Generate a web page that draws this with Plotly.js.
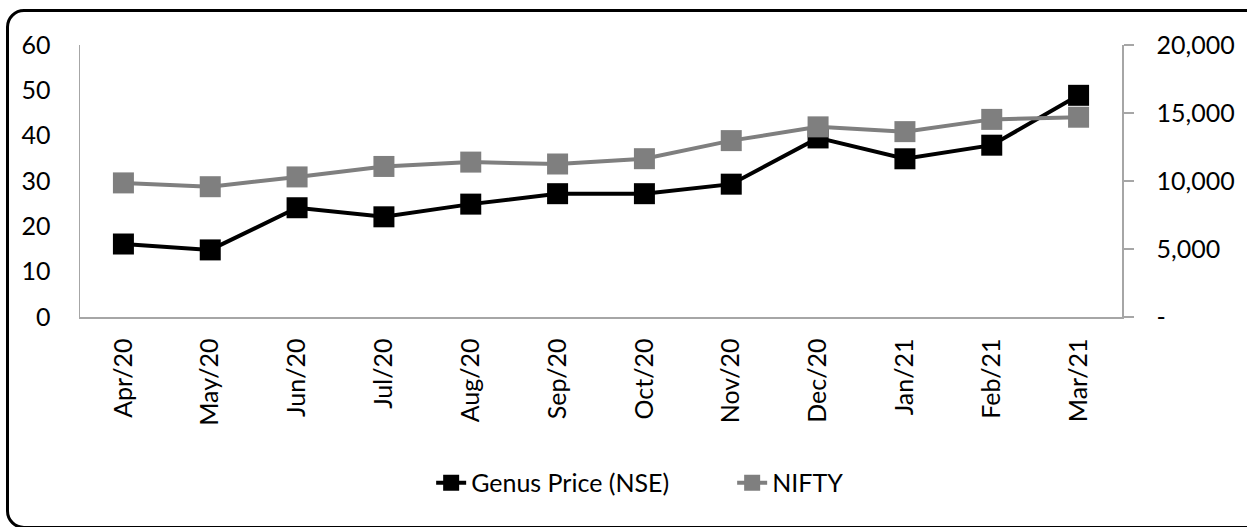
<!DOCTYPE html>
<html>
<head>
<meta charset="utf-8">
<script src="https://cdn.plot.ly/plotly-3.0.1.min.js"></script>
<style>
  html, body { margin: 0; padding: 0; background: #fff; }
  #wrap { position: relative; width: 1247px; height: 527px; overflow: hidden; }
  #chart { position: absolute; left: 0; top: 0; width: 1247px; height: 527px; }
  #frame { position: absolute; left: 6px; top: 9px; width: 1260px; height: 514px;
           border: 3px solid #000; border-radius: 18px; pointer-events: none; }
</style>
</head>
<body>
<div id="wrap">
  <div id="chart"></div>
  <div id="frame"></div>
</div>
<script>
const months = ["Apr/20","May/20","Jun/20","Jul/20","Aug/20","Sep/20","Oct/20","Nov/20","Dec/20","Jan/21","Feb/21","Mar/21"];
const genusPrice = [16.1, 14.8, 24.1, 22.1, 24.9, 27.2, 27.2, 29.3, 39.5, 34.9, 37.9, 48.9];
const nifty = [9860, 9580, 10300, 11070, 11390, 11250, 11640, 12970, 13980, 13630, 14530, 14690];
const leftTicks = [0, 10, 20, 30, 40, 50, 60];
const rightTickVals = [0, 5000, 10000, 15000, 20000];
const rightTickText = ["-", "5,000", "10,000", "15,000", "20,000"];

const FONT = "Lato, 'Open Sans', sans-serif";
const AXIS_GREY = "#a6a6a6";
const FS = 25;

const traces = [
  {
    x: months, y: genusPrice, name: "Genus Price (NSE)", type: "scatter", mode: "lines+markers",
    yaxis: "y",
    line: { color: "#000000", width: 4 },
    marker: { symbol: "square", size: 21, color: "#000000" }
  },
  {
    x: months, y: nifty, name: "NIFTY", type: "scatter", mode: "lines+markers",
    yaxis: "y2",
    line: { color: "#7f7f7f", width: 4 },
    marker: { symbol: "square", size: 21, color: "#7f7f7f" }
  }
];

const layout = {
  width: 1247, height: 527,
  margin: { l: 80, r: 125, t: 45, b: 210 },
  paper_bgcolor: "rgba(0,0,0,0)", plot_bgcolor: "#fff",
  font: { family: FONT, size: FS, color: "#000" },
  showlegend: true,
  legend: {
    orientation: "h", x: 0.337, xanchor: "left", y: -0.61, yanchor: "middle",
    font: { family: FONT, size: FS, color: "#000" }, entrywidth: 256, tracegroupgap: 0
  },
  xaxis: {
    type: "category", range: [-0.5, 11.5],
    showline: true, linecolor: AXIS_GREY, linewidth: 1.5,
    showgrid: false, zeroline: false, ticks: "",
    tickangle: -90, ticklabelstandoff: 10,
    tickfont: { family: FONT, size: FS, color: "#000" }
  },
  yaxis: {
    range: [0, 60], tickvals: leftTicks,
    showline: true, linecolor: AXIS_GREY, linewidth: 1.5,
    showgrid: false, zeroline: false, ticks: "",
    ticklabelstandoff: 23,
    tickfont: { family: FONT, size: FS, color: "#000" }
  },
  yaxis2: {
    overlaying: "y", side: "right", range: [0, 20000],
    tickvals: rightTickVals, ticktext: rightTickText,
    showline: true, linecolor: AXIS_GREY, linewidth: 1.5,
    showgrid: false, zeroline: false,
    ticks: "outside", ticklen: 10, tickcolor: AXIS_GREY, tickwidth: 1.5,
    ticklabelstandoff: 18,
    tickfont: { family: FONT, size: FS, color: "#000" }
  }
};

Plotly.newPlot("chart", traces, layout, { displayModeBar: false, staticPlot: true });
</script>
</body>
</html>
